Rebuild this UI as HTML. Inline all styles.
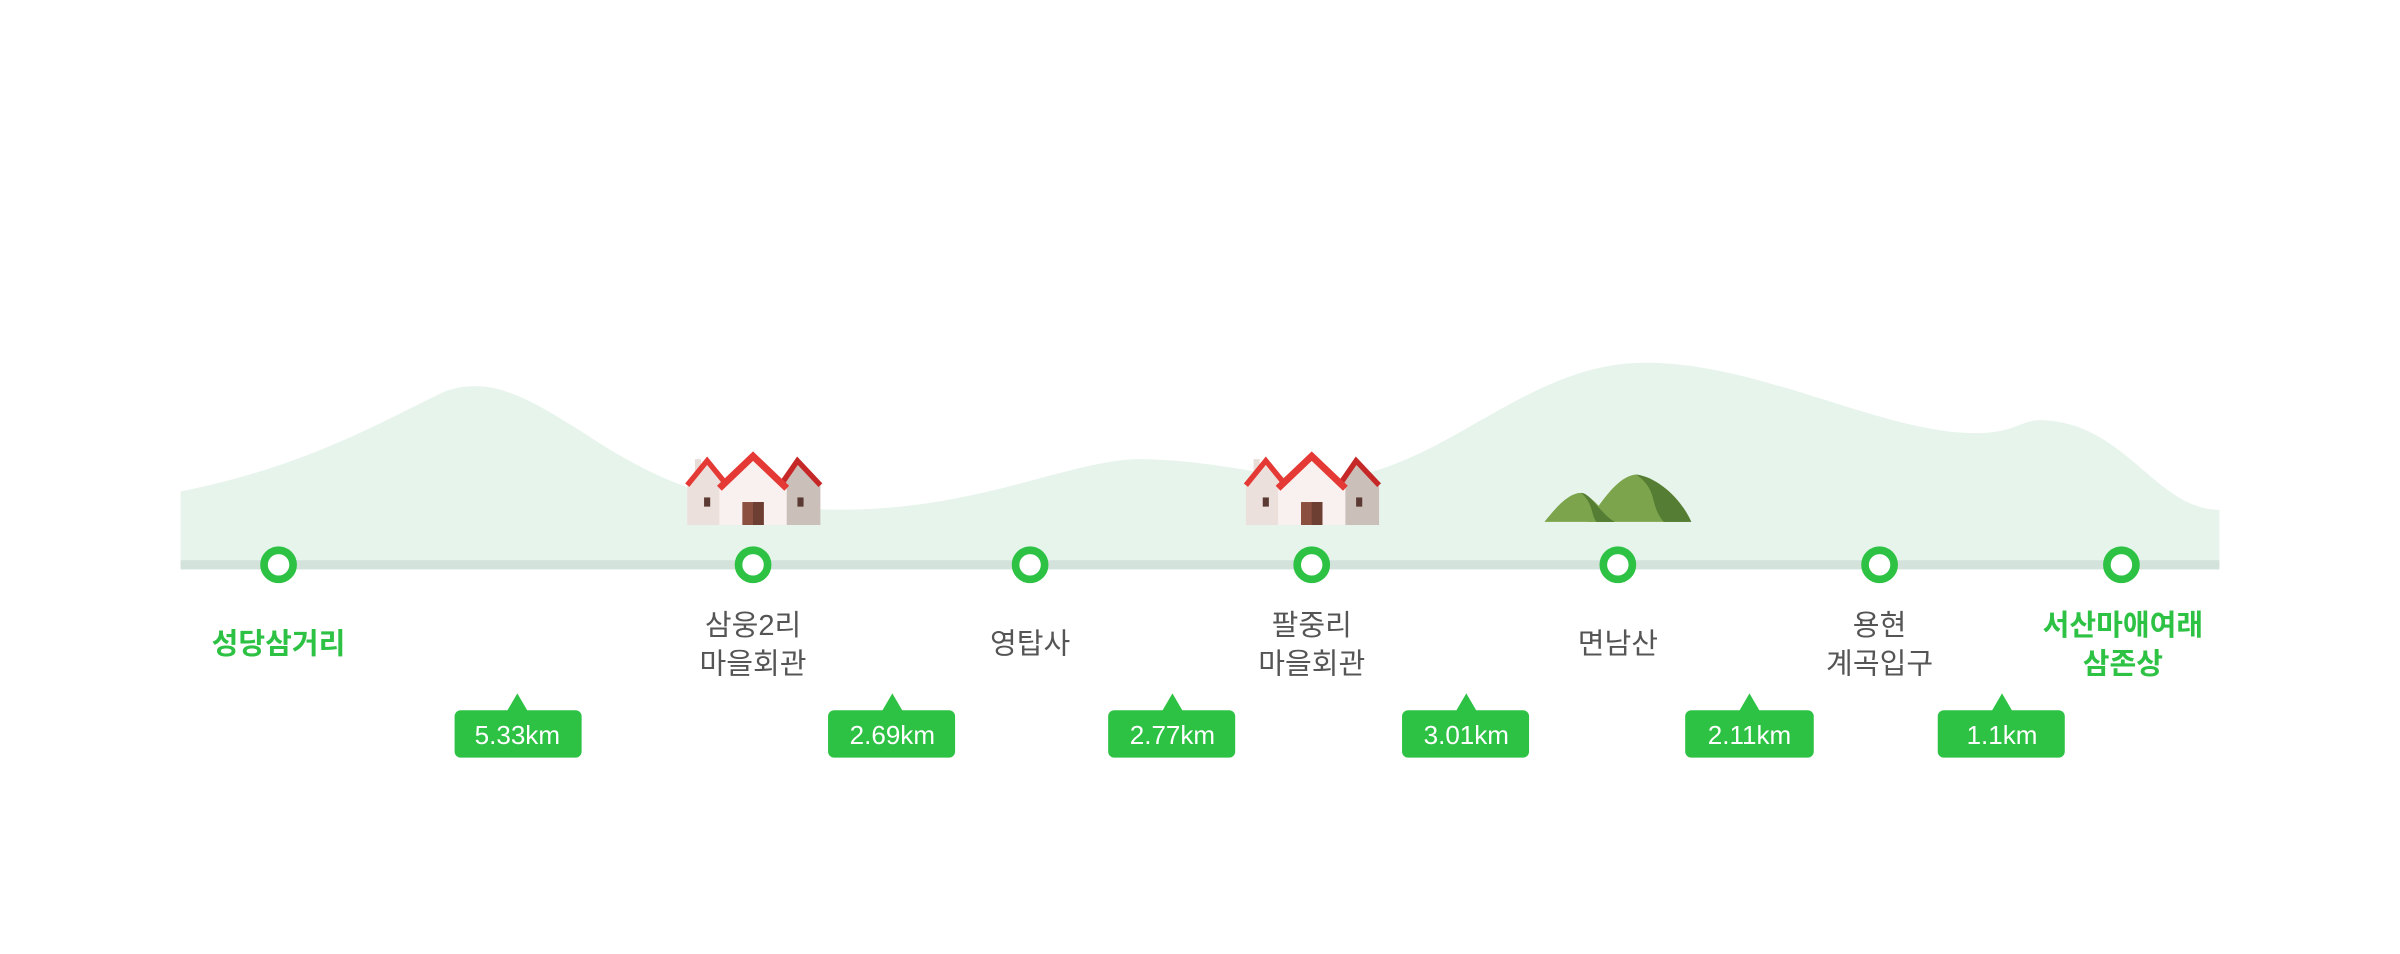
<!DOCTYPE html>
<html><head><meta charset="utf-8"><style>
html,body{margin:0;padding:0;background:#fff;}
svg{display:block;}
text{font-family:"Liberation Sans","Noto Sans CJK KR",sans-serif;}
</style></head><body>
<svg width="2400" height="954" viewBox="0 0 2400 954" xmlns="http://www.w3.org/2000/svg">
<g transform="scale(1.5306)">
<path d="M118,321 C200,305 250,275 290,256 C320,245 345,260 380,282 C430,315 470,333 550,333 C640,333 700,300 745,300 C800,300 850,318 880,312 C950,300 1000,237 1075,237 C1150,237 1230,283 1290,283 C1320,283 1320,272 1340,275 C1390,280 1410,333 1450,333 L1450,372 L118,372 Z" fill="#e7f4ec"/>
<rect x="118" y="366" width="1332" height="6" fill="#d3e2db"/>

<g id="house" transform="translate(449,297)">
<rect x="5" y="3" width="4" height="12" fill="#e8dcd8"/>
<polygon points="0,19 13,4 26,19 26,46 0,46" fill="#ebe0dc"/>
<polyline points="0,20 13,4 26,20" fill="none" stroke="#e53935" stroke-width="3.5"/>
<polygon points="61,19 72,4 87,19 87,46 61,46" fill="#cbbfb9"/>
<polyline points="61,20 72,4 87,20" fill="none" stroke="#c62828" stroke-width="3.5"/>
<polygon points="21,21 43,1 65,21 65,46 21,46" fill="#f9f1ef"/>
<polyline points="21,22 43,1 65,22" fill="none" stroke="#e53935" stroke-width="4.5"/>
<rect x="36" y="31" width="14" height="15" fill="#8b5040"/>
<rect x="43" y="31" width="7" height="15" fill="#6d3e32"/>
<rect x="11" y="28" width="4" height="6" fill="#5a3a32"/>
<rect x="72" y="28" width="4" height="6" fill="#5a3a32"/>
</g>
<use href="#house" transform="translate(365,0)"/>

<g transform="translate(1009,309)">
<path d="M28,32 C38,18 48,2 60,1 C75,3 90,18 96,32 Z" fill="#7ca44c"/>
<path d="M60,1 C75,3 90,18 96,32 L78,32 C68,20 75,12 60,1 Z" fill="#557d33"/>
<path d="M0,32 C8,22 16,13 24,13 C32,15 40,28 46,32 Z" fill="#7ca44c"/>
<path d="M24,13 C30,13 36,26 46,32 L34,32 C30,26 32,20 24,13 Z" fill="#557d33"/>
</g>

<g fill="#fff" stroke="#2dc244" stroke-width="5">
<circle cx="182" cy="369" r="9.5"/>
<circle cx="492" cy="369" r="9.5"/>
<circle cx="673" cy="369" r="9.5"/>
<circle cx="857" cy="369" r="9.5"/>
<circle cx="1057" cy="369" r="9.5"/>
<circle cx="1228" cy="369" r="9.5"/>
<circle cx="1386" cy="369" r="9.5"/>
</g>

<g font-size="19" text-anchor="middle" fill="#555">
<text x="182" y="427" fill="#2dc244" font-weight="bold">성당삼거리</text>
<text x="492" y="415">삼웅2리</text>
<text x="492" y="440">마을회관</text>
<text x="673" y="427">영탑사</text>
<text x="857" y="415">팔중리</text>
<text x="857" y="440">마을회관</text>
<text x="1057" y="427">면남산</text>
<text x="1228" y="415">용현</text>
<text x="1228" y="440">계곡입구</text>
<text x="1387" y="415" fill="#2dc244" font-weight="bold">서산마애여래</text>
<text x="1387" y="440" fill="#2dc244" font-weight="bold">삼존상</text>
</g>

<g fill="#2dc244">
<rect x="297" y="464" width="83" height="31" rx="4"/><polygon points="331,465 338,453 345,465"/>
<rect x="541" y="464" width="83" height="31" rx="4"/><polygon points="576,465 583,453 590,465"/>
<rect x="724" y="464" width="83" height="31" rx="4"/><polygon points="759,465 766,453 773,465"/>
<rect x="916" y="464" width="83" height="31" rx="4"/><polygon points="951,465 958,453 965,465"/>
<rect x="1101" y="464" width="84" height="31" rx="4"/><polygon points="1136,465 1143,453 1150,465"/>
<rect x="1266" y="464" width="83" height="31" rx="4"/><polygon points="1301,465 1308,453 1315,465"/>
</g>
<g font-size="17" text-anchor="middle" fill="#fff">
<text x="338" y="486">5.33km</text>
<text x="583" y="486">2.69km</text>
<text x="766" y="486">2.77km</text>
<text x="958" y="486">3.01km</text>
<text x="1143" y="486">2.11km</text>
<text x="1308" y="486">1.1km</text>
</g>
</g>
</svg>
</body></html>
